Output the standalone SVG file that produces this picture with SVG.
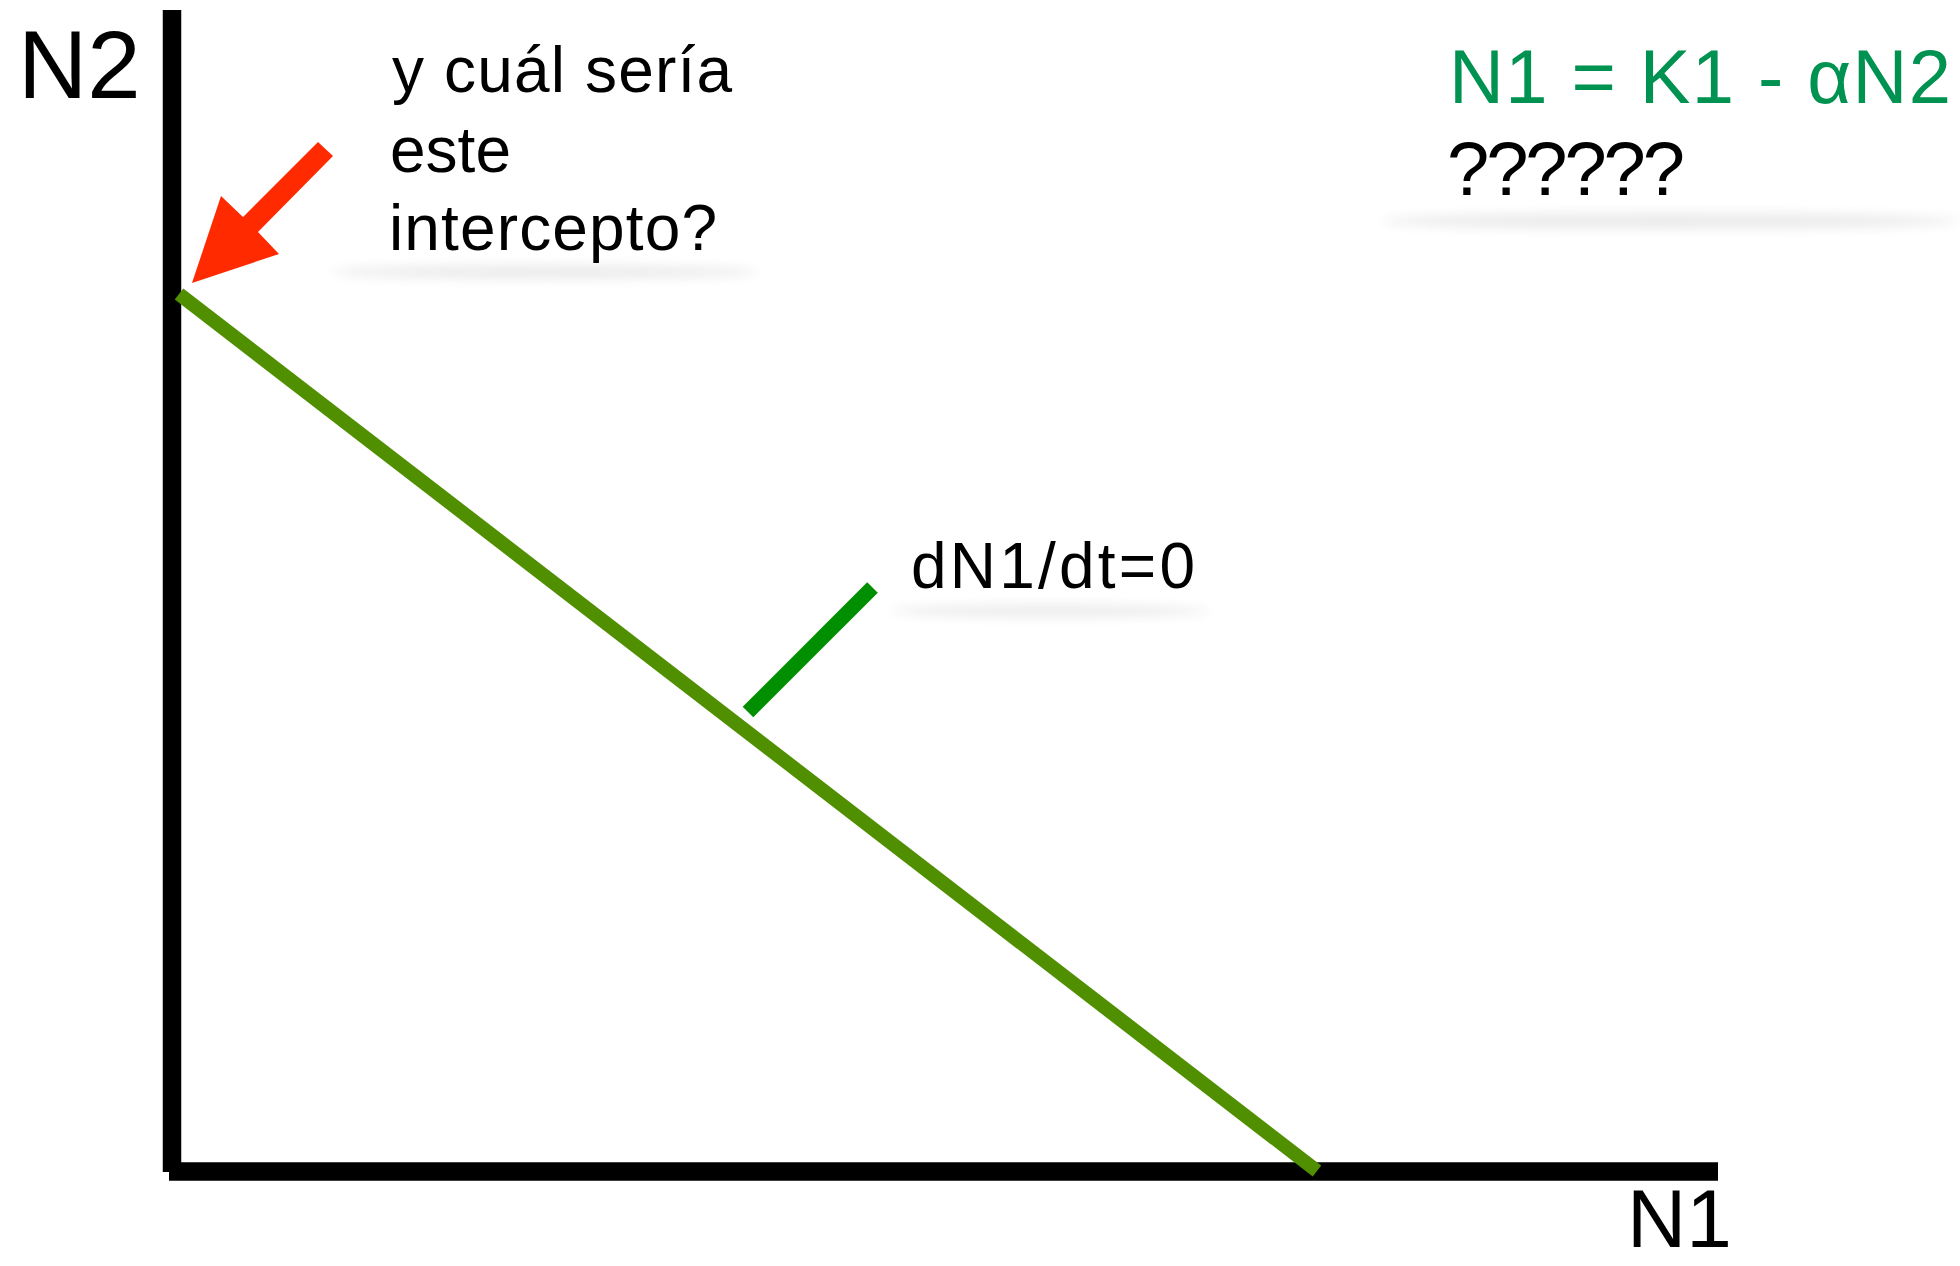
<svg xmlns="http://www.w3.org/2000/svg" width="1960" height="1266" viewBox="0 0 1960 1266">
<style>
  .t { font-family: "Liberation Sans", Arial, sans-serif; fill: #000; }
  .axis { stroke: #000; stroke-width: 18.5; fill: none; stroke-linecap: butt; }
  .shadow { fill: #000; opacity: 0.08; filter: url(#blur); }
</style>
<defs>
  <filter id="blur" x="-20%" y="-200%" width="140%" height="500%">
    <feGaussianBlur stdDeviation="6"/>
  </filter>
</defs>
<rect width="1960" height="1266" fill="#fff"/>

<g id="shadows">
  <ellipse class="shadow" cx="545" cy="272" rx="215" ry="7"/>
  <ellipse class="shadow" cx="1050" cy="611" rx="160" ry="6"/>
  <ellipse class="shadow" cx="1670" cy="221" rx="290" ry="8"/>
</g>

<g id="connectors">
  <line id="y-axis" class="axis" x1="172" y1="10" x2="172" y2="1172"/>
  <line id="x-axis" class="axis" x1="169" y1="1171.5" x2="1718" y2="1171.5"/>
  <line id="isocline" x1="179" y1="294" x2="1317" y2="1171" stroke="#4f8f00" stroke-width="14"/>
  <line id="label-tick" x1="748" y1="712" x2="872.5" y2="587.5" stroke="#008f00" stroke-width="15"/>
  <polygon id="red-arrow" points="318,142 333,156 258,232 279,254 192,283 221,196 243,217" fill="#ff2a00"/>
</g>

<g id="label-N2">
  <text class="t" x="18" y="98" font-size="96">N2</text>
</g>
<g id="label-N1">
  <text class="t" x="1627" y="1247" font-size="82">N1</text>
</g>
<g id="question">
  <text class="t" x="392" y="92" font-size="64" textLength="340">y cuál sería</text>
  <text class="t" x="390" y="172" font-size="64">este</text>
  <text class="t" x="389" y="250" font-size="64" textLength="328">intercepto?</text>
</g>
<g id="label-dN1dt">
  <text class="t" x="911" y="588" font-size="64" textLength="284">dN1/dt=0</text>
</g>
<g id="equation">
  <text class="t" x="1449" y="103" font-size="76" style="fill:#009250" textLength="502">N1 = K1 - αN2</text>
  <text class="t" x="1447" y="195" font-size="76" textLength="238">??????</text>
</g>
</svg>
